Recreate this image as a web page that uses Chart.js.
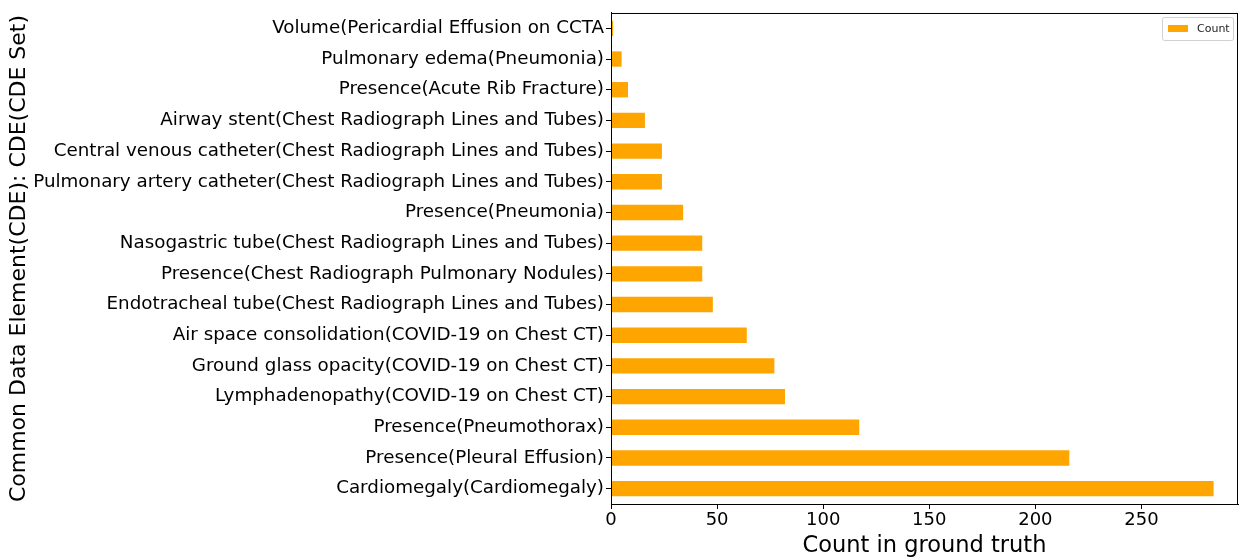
<!DOCTYPE html>
<html>
<head>
<meta charset="utf-8">
<script src="https://cdn.jsdelivr.net/npm/chart.js@4.4.1/dist/chart.umd.min.js"></script>
<style>
  html, body { margin: 0; padding: 0; background: #fff; }
  #wrap { width: 1243px; height: 560px; }
</style>
</head>
<body>
<div id="wrap"><canvas id="chart" width="1243" height="560"></canvas></div>
<script>
// counts per CDE, largest first (bottom of the plot)
const categories = [
  'Cardiomegaly(Cardiomegaly)',
  'Presence(Pleural Effusion)',
  'Presence(Pneumothorax)',
  'Lymphadenopathy(COVID-19 on Chest CT)',
  'Ground glass opacity(COVID-19 on Chest CT)',
  'Air space consolidation(COVID-19 on Chest CT)',
  'Endotracheal tube(Chest Radiograph Lines and Tubes)',
  'Presence(Chest Radiograph Pulmonary Nodules)',
  'Nasogastric tube(Chest Radiograph Lines and Tubes)',
  'Presence(Pneumonia)',
  'Pulmonary artery catheter(Chest Radiograph Lines and Tubes)',
  'Central venous catheter(Chest Radiograph Lines and Tubes)',
  'Airway stent(Chest Radiograph Lines and Tubes)',
  'Presence(Acute Rib Fracture)',
  'Pulmonary edema(Pneumonia)',
  'Volume(Pericardial Effusion on CCTA',
];
const counts = [284, 216, 117, 82, 77, 64, 48, 43, 43, 34, 24, 24, 16, 8, 5, 1];
const xTicks = [0, 50, 100, 150, 200, 250];

const FONT = 'DejaVu Sans';
const ORANGE = '#FFA500';

// matplotlib-style frame + legend box in the upper right
const framePlugin = {
  id: 'frame',
  afterDraw(chart) {
    const c = chart.ctx, a = chart.chartArea;
    c.save();
    c.strokeStyle = '#000';
    c.lineWidth = 1;
    c.strokeRect(a.left + 0.5, a.top + 0.5, a.right - a.left - 1, a.bottom - a.top);

    const bx = a.right - 76, by = a.top + 4, bw = 71, bh = 23;
    c.fillStyle = 'rgba(255,255,255,0.8)';
    c.strokeStyle = '#d0d0d0';
    c.beginPath();
    c.roundRect(bx + 0.5, by + 0.5, bw, bh, 2);
    c.fill();
    c.stroke();
    c.fillStyle = ORANGE;
    c.fillRect(bx + 6, by + 8, 20, 7);
    c.fillStyle = '#222';
    c.font = '11px "' + FONT + '"';
    c.textBaseline = 'middle';
    c.fillText('Count', bx + 35, by + 12);
    c.restore();
  }
};

new Chart(document.getElementById('chart'), {
  type: 'bar',
  data: {
    labels: categories,
    datasets: [{
      label: 'Count',
      data: counts,
      backgroundColor: ORANGE,
      borderWidth: 0,
      barPercentage: 0.5,
      categoryPercentage: 1.0,
    }]
  },
  options: {
    indexAxis: 'y',
    responsive: false,
    animation: false,
    layout: { padding: { top: 9, right: 5, left: 0, bottom: 0 } },
    plugins: {
      legend: { display: false },
      tooltip: { enabled: false },
    },
    scales: {
      x: {
        min: 0,
        max: 295.5,
        afterBuildTicks: s => { s.ticks = xTicks.map(v => ({ value: v })); },
        afterFit: s => { s.height = 56; },
        grid: { drawOnChartArea: false, drawTicks: true, tickLength: 5, color: '#000' },
        border: { color: '#000' },
        ticks: { color: '#000', font: { family: FONT, size: 18 }, padding: 1, maxRotation: 0 },
        title: { display: true, text: 'Count in ground truth', color: '#000',
                 font: { family: FONT, size: 22.5 }, padding: { top: -4, bottom: 0 } },
      },
      y: {
        reverse: true,
        afterFit: s => { s.width = 611; },
        grid: { offset: false, drawOnChartArea: false, drawTicks: true, tickLength: 5, color: '#000' },
        border: { color: '#000' },
        ticks: { color: '#000', font: { family: FONT, size: 18.3 }, padding: 2, autoSkip: false },
        title: { display: true, text: 'Common Data Element(CDE): CDE(CDE Set)', color: '#000',
                 font: { family: FONT, size: 22 }, padding: { top: 6, bottom: 0 } },
      }
    }
  },
  plugins: [framePlugin]
});
</script>
</body>
</html>
